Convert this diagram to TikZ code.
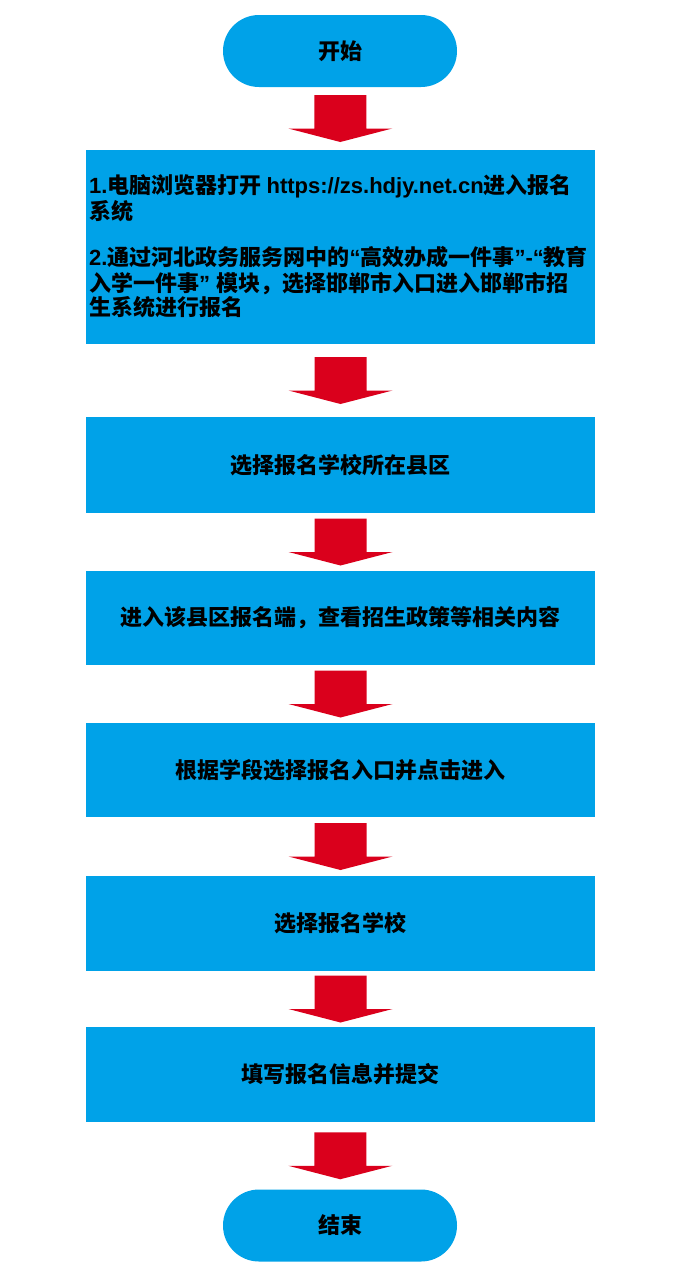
\documentclass[tikz,border=0pt]{standalone}
\usepackage{fontspec}
\setmainfont{Noto Sans CJK SC}
\newfontfamily\lat{Liberation Sans}
\usetikzlibrary{calc}
\definecolor{boxblue}{RGB}{0,162,232}
\definecolor{arrred}{RGB}{218,0,28}
\tikzset{
  txt/.style={font=\bfseries\fontsize{22}{26}\selectfont, text=black},
  box/.style={txt, fill=boxblue, minimum width=509pt, inner sep=0pt},
  term/.style={txt, fill=boxblue, minimum width=234pt, minimum height=72pt, rounded corners=36pt, inner sep=0pt},
}
\newcommand\blockarrow[2]{%
  \coordinate (m#1#2) at ($(#1.south)!0.5!(#2.north)$);
  \fill[arrred] ($(m#1#2)+(-26,-23.5)$) -- ++(52,0) -- ++(0,33.5) -- ++(26,0)
    -- ($(m#1#2)+(0,23.5)$) -- ($(m#1#2)+(-52,10)$) -- ++(26,0) -- cycle;
}
\begin{document}
\begin{tikzpicture}[x=1pt,y=-1pt]
\useasboundingbox[fill=white] (0,0) rectangle (682,1269);
\node[term] (start) at (340,51) {开始};
\node[box, minimum height=194pt] (b1) at (340.5,247) {};
\node[txt, anchor=west, align=left, inner sep=0pt] (t1) at (89,246) {%
{\lat 1.}电脑浏览器打开 {\lat https://zs.hdjy.net.cn}进入报名\\
系统\\[20pt]
{\lat 2.}通过河北政务服务网中的{\lat “}高效办成一件事{\lat ”-“}教育\\
入学一件事{\lat ” }模块，选择邯郸市入口进入邯郸市招\\[-2pt]
生系统进行报名};
\node[box, minimum height=96pt] (b2) at (340.5,465) {选择报名学校所在县区};
\node[box, minimum height=94pt] (b3) at (340.5,618) {进入该县区报名端，查看招生政策等相关内容};
\node[box, minimum height=94pt] (b4) at (340.5,770) {根据学段选择报名入口并点击进入};
\node[box, minimum height=95pt] (b5) at (340.5,923.5) {选择报名学校};
\node[box, minimum height=95pt] (b6) at (340.5,1074.5) {填写报名信息并提交};
\node[term] (end) at (340,1225.5) {结束};
\blockarrow{start}{b1}
\blockarrow{b1}{b2}
\blockarrow{b2}{b3}
\blockarrow{b3}{b4}
\blockarrow{b4}{b5}
\blockarrow{b5}{b6}
\blockarrow{b6}{end}
\end{tikzpicture}
\end{document}
